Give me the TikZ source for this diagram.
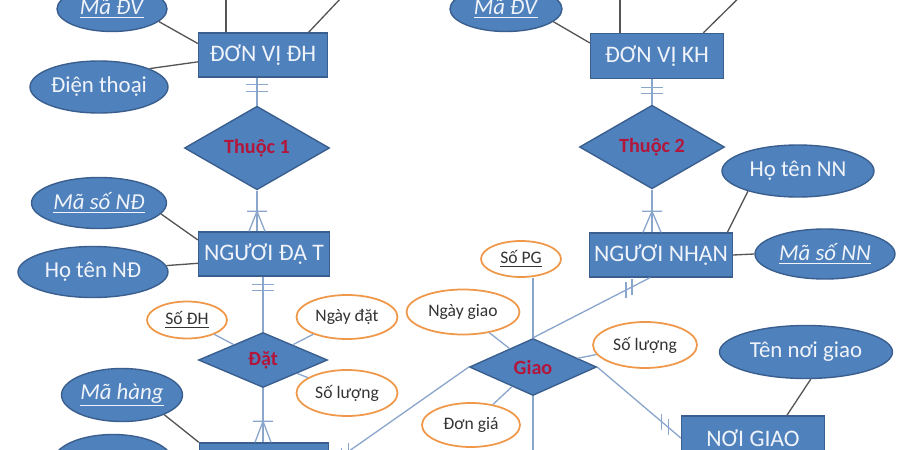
\documentclass[tikz,border=0pt]{standalone}
\usepackage{fontspec}
\setmainfont{Carlito}
\usepackage{tikz}
\usetikzlibrary{%
  calc,%
  shapes.geometric%
}
\definecolor{entblue}{HTML}{4F81BD}
\definecolor{edgeblue}{HTML}{3A5F8E}
\definecolor{paleblue}{HTML}{F0F4FA}
\definecolor{relred}{RGB}{178,22,58}
\definecolor{attorange}{HTML}{F0984A}
\definecolor{attgray}{HTML}{333333}
\definecolor{darkline}{HTML}{555555}
\definecolor{relline}{HTML}{8AA6CC}
\tikzset{entity/.style = {rectangle, draw=edgeblue, fill=entblue, text=paleblue,
      line width=0.8pt, inner sep=0pt, font=\fontsize{13.5}{16}\selectfont},
    attr/.style = {ellipse, draw=edgeblue, fill=entblue, text=paleblue,
      line width=0.8pt, inner sep=0pt, font=\fontsize{13}{15}\selectfont},
    oattr/.style = {ellipse, draw=attorange, fill=white, text=attgray,
      line width=1pt, inner sep=0pt, font=\fontsize{10}{12}\selectfont},
    rel/.style = {diamond, draw=edgeblue, fill=entblue, text=relred,
      line width=0.8pt, inner sep=0pt, font=\fontsize{11.5}{13}\selectfont\bfseries},
    aline/.style = {draw=darkline, line width=0.75pt},
    rline/.style = {draw=relline, line width=0.75pt}}

\begin{document}
\begin{tikzpicture}[x=0.02cm,y=-0.02cm]
  \useasboundingbox (0,0) rectangle (900,450);
  \clip (0,0) rectangle (900,450);
  \fill[white] (0,0) rectangle (900,450);

  % left column
  \node[entity, minimum width=2.58cm, minimum height=0.88cm] (dh) at (263,55) {ĐƠN VỊ ĐH};
  \node[attr, minimum width=2.2cm, minimum height=0.9cm] (madv1) at (112,9) {\underline{\textit{Mã ĐV}}};
  \node[attr, minimum width=2.76cm, minimum height=1.04cm] (dienthoai) at (99,87) {Điện thoại};
  \node[rel, minimum width=2.9cm, minimum height=1.12cm] (thuoc1) at (257,148) {Thuộc 1};
  \node[entity, minimum width=2.62cm, minimum height=0.88cm] (nd) at (264,254) {NGƯƠI ĐẠ T};
  \node[attr, minimum width=2.7cm, minimum height=1.02cm] (masond) at (99,203) {\underline{\textit{Mã số NĐ}}};
  \node[attr, minimum width=3cm, minimum height=1.02cm] (hotennd) at (93,272) {Họ tên NĐ};
  \node[rel, minimum width=2.58cm, minimum height=1.1cm] (dat) at (263,360) {Đặt};
  \node[oattr, minimum width=1.6cm, minimum height=0.74cm] (sodh) at (187,320) {\underline{Số ĐH}};
  \node[oattr, minimum width=2.02cm, minimum height=0.88cm] (ngaydat) at (347,317) {Ngày đặt};
  \node[oattr, minimum width=2.02cm, minimum height=0.92cm] (soluong1) at (347,393) {Số lượng};
  \node[entity, minimum width=2.58cm, minimum height=0.88cm] (mh) at (264,465) {};
  \node[attr, minimum width=2.42cm, minimum height=1.06cm] (mahang) at (122,395) {\underline{\textit{Mã hàng}}};
  \node[attr, minimum width=2.4cm, minimum height=1.1cm] (mhattr) at (113,462) {};

  % right column
  \node[entity, minimum width=2.66cm, minimum height=0.9cm] (kh) at (657,56) {ĐƠN VỊ KH};
  \node[attr, minimum width=2.24cm, minimum height=0.9cm] (madv2) at (506,9) {\underline{\textit{Mã ĐV}}};
  \node[rel, minimum width=2.9cm, minimum height=1.14cm] (thuoc2) at (652,147) {Thuộc 2};
  \node[entity, minimum width=2.86cm, minimum height=0.88cm] (nn) at (661,255) {NGƯƠI NHẠN};
  \node[attr, minimum width=3.04cm, minimum height=1.04cm] (hotennn) at (798,171) {Họ tên NN};
  \node[attr, minimum width=2.8cm, minimum height=1cm] (masonn) at (825,254) {\underline{\textit{Mã số NN}}};
  \node[rel, minimum width=2.54cm, minimum height=1.14cm] (giao) at (533,367) {Giao};
  \node[oattr, minimum width=1.6cm, minimum height=0.72cm] (sopg) at (521,259) {\underline{Số PG}};
  \node[oattr, minimum width=2.26cm, minimum height=0.9cm] (ngaygiao) at (463,312) {Ngày giao};
  \node[oattr, minimum width=1.96cm, minimum height=0.88cm] (dongia) at (471,425) {Đơn giá};
  \node[oattr, minimum width=2.08cm, minimum height=0.92cm] (soluong2) at (645,345) {Số lượng};
  \node[entity, minimum width=2.86cm, minimum height=0.88cm] (ng) at (753,438) {NƠI GIAO};
  \node[attr, minimum width=3.46cm, minimum height=1.06cm] (tennoigiao) at (806,352) {Tên nơi giao};

  \coordinate (dh-x1) at (226,-40);
  \coordinate (dh-x2) at (358,-20);
  \coordinate (kh-x1) at (620,-40);
  \coordinate (kh-x2) at (757,-20);
  \coordinate (giao-d) at (533,500);

  % attribute lines
  \draw[aline] (dh-x1) -- (dh.north -| dh-x1);
  \draw[aline] (dh-x2) -- ($(dh.north)!0.7!(dh.north east)$);
  \draw[aline] (madv1.-15) -- (dh.170);
  \draw[aline] (dienthoai.20) -- (dh.186);
  \draw[aline] (masond.-10) -- (nd.168);
  \draw[aline] (hotennd.5) -- (nd.188);
  \draw[aline] (mahang.-25) -- (mh.north west);
  \draw[aline] (kh-x1) -- (kh.north -| kh-x1);
  \draw[aline] (kh-x2) -- ($(kh.north)!0.69!(kh.north east)$);
  \draw[aline] (madv2.-15) -- (kh.169);
  \draw[aline] (hotennn.202) -- ($(nn.north)!0.92!(nn.north east)$);
  \draw[aline] (nn.east) -- (masonn.west);
  \draw[aline] (tennoigiao.-80) -- ($(ng.north)!0.47!(ng.north east)$);

  \draw[rline] (sodh) -- (dat);
  \draw[rline] (ngaydat) -- (dat);
  \draw[rline] (soluong1) -- (dat);
  \draw[rline] (sopg.south -| giao.north) -- (giao.north);
  \draw[rline] (ngaygiao) -- (giao);
  \draw[rline] (dongia) -- (giao);
  \draw[rline] (soluong2) -- (giao);

  % relationship lines
  \coordinate (b1) at (dh.south -| thuoc1.north);
  \draw[rline] (b1) -- (thuoc1.north);
  \draw[rline] (b1) ++(-11,7) -- ++(22,0) (b1) ++(-11,14) -- ++(22,0);
  \coordinate (f1) at (nd.north -| thuoc1.south);
  \draw[rline] (thuoc1.south) -- (f1);
  \draw[rline] (f1) ++(-10,-20) -- ++(20,0) (f1) ++(-8,0) -- ++(8,-20) -- ++(8,20);

  \coordinate (b2) at (nd.south -| dat.north);
  \draw[rline] (b2) -- (dat.north);
  \draw[rline] (b2) ++(-11,8) -- ++(22,0) (b2) ++(-11,14) -- ++(22,0);
  \coordinate (f2) at (mh.north -| dat.south);
  \draw[rline] (dat.south) -- (f2);
  \draw[rline] (f2) ++(-10,-21) -- ++(20,0) (f2) ++(-8,0) -- ++(8,-21) -- ++(8,21);

  \coordinate (b3) at (kh.south -| thuoc2.north);
  \draw[rline] (b3) -- (thuoc2.north);
  \draw[rline] (b3) ++(-11,8) -- ++(22,0) (b3) ++(-11,14) -- ++(22,0);
  \coordinate (f3) at (nn.north -| thuoc2.south);
  \draw[rline] (thuoc2.south) -- (f3);
  \draw[rline] (f3) ++(-10,-21) -- ++(20,0) (f3) ++(-9,0) -- ++(9,-21) -- ++(9,21);

  \draw[rline] (giao.west) -- (mh.east);
  \draw[rline] ($(giao.west)!0.862!(mh.east)$) ++(0,-8) -- ++(0,16)
    ($(giao.west)!0.911!(mh.east)$) ++(0,-8) -- ++(0,16);
  \coordinate (nnf) at ($(nn.south)+(-11,0)$);
  \draw[rline] (giao.north) -- (nnf);
  \draw[rline] ($(giao.north)!0.795!(nnf)$) ++(0,-8) -- ++(0,16)
    ($(giao.north)!0.846!(nnf)$) ++(0,-8) -- ++(0,16);
  \draw[rline] (giao.east) -- (ng.west);
  \draw[rline] ($(giao.east)!0.77!(ng.west)$) ++(0,-8) -- ++(0,16)
    ($(giao.east)!0.85!(ng.west)$) ++(0,-8) -- ++(0,16);
  \draw[rline] (giao.south) -- (giao-d);
\end{tikzpicture}
\end{document}
